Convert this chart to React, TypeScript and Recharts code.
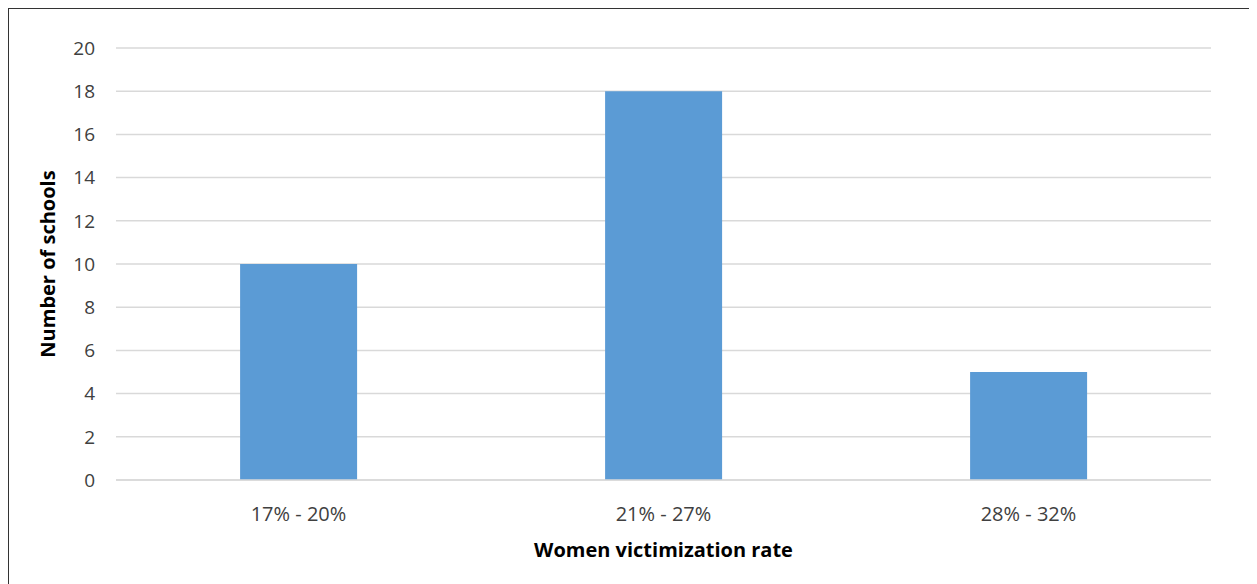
import { BarChart, Bar, XAxis, YAxis, CartesianGrid } from "recharts";

const categories = ["17% - 20%", "21% - 27%", "28% - 32%"];
const schoolCounts = [10, 18, 5];
const yTicks = [0, 2, 4, 6, 8, 10, 12, 14, 16, 18, 20];

const data = categories.map((range, i) => ({ range, schools: schoolCounts[i] }));

const font = "'Open Sans', 'Liberation Sans', sans-serif";

function YLabel() {
  return (
    <text
      x={38}
      y={255}
      transform="rotate(-90, 38, 255)"
      textAnchor="middle"
      dominantBaseline="central"
      fontFamily={font}
      fontSize={20}
      fontWeight="bold"
      fill="#000"
    >
      Number of schools
    </text>
  );
}

export default function App() {
  return (
    <div
      style={{
        width: 1247,
        height: 576,
        borderTop: "1px solid #333",
        borderLeft: "1px solid #333",
        borderRight: "1px solid #ccc",
        background: "#fff",
      }}
    >
      <BarChart
        width={1247}
        height={576}
        data={data}
        margin={{ top: 39, right: 45, bottom: 0, left: 30 }}
        barCategoryGap="34%"
      >
        <CartesianGrid vertical={false} stroke="#d9d9d9" strokeWidth={1.5} />
        <XAxis
          dataKey="range"
          height={105}
          tickLine={false}
          axisLine={{ stroke: "#d9d9d9", strokeWidth: 1.5 }}
          tickSize={0}
          tickMargin={27}
          tick={{ fontFamily: font, fontSize: 20, fill: "#404040" }}
          label={{
            value: "Women victimization rate",
            position: "insideBottom",
            offset: 28,
            style: { fontFamily: font, fontSize: 20, fontWeight: "bold", fill: "#000" },
          }}
        />
        <YAxis
          width={77}
          domain={[0, 20]}
          ticks={yTicks}
          interval={0}
          tickLine={false}
          axisLine={false}
          tickSize={0}
          tickMargin={21}
          tick={{ fontFamily: font, fontSize: 19, fill: "#404040" }}
          label={<YLabel />}
        />
        <Bar dataKey="schools" fill="#5b9bd5" isAnimationActive={false} />
      </BarChart>
    </div>
  );
}
